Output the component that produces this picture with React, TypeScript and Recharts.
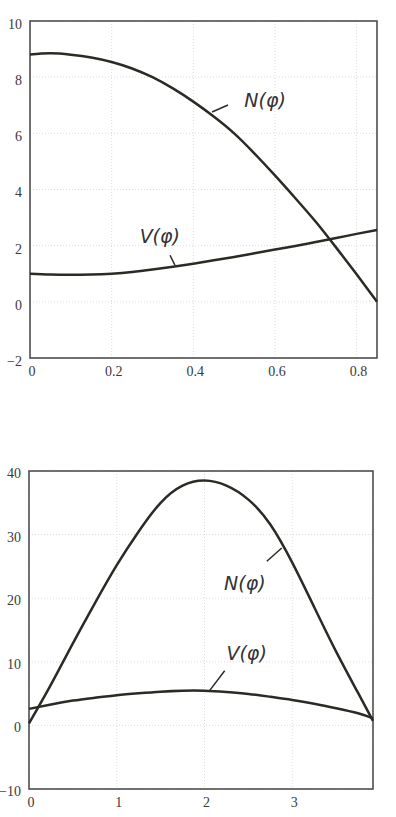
import React from 'react';
import {
  LineChart, Line, XAxis, YAxis, CartesianGrid, ReferenceArea, ReferenceLine, ReferenceDot,
} from 'recharts';

// upper plot: phi in rad, forces N and V
const phiTop = [0, 0.05, 0.1, 0.15, 0.2, 0.25, 0.3, 0.35, 0.4, 0.45, 0.5, 0.55, 0.6, 0.65, 0.7, 0.75, 0.8, 0.85];
const nTop = [8.81, 8.85, 8.8, 8.7, 8.54, 8.31, 8.0, 7.6, 7.13, 6.6, 6.0, 5.28, 4.5, 3.69, 2.85, 1.93, 0.98, 0.0];
const vTop = [1.0, 0.97, 0.96, 0.97, 1.0, 1.06, 1.15, 1.25, 1.36, 1.48, 1.6, 1.73, 1.86, 1.99, 2.13, 2.27, 2.42, 2.56];
const topXTicks = [0, 0.2, 0.4, 0.6, 0.8];
const topYTicks = [-2, 0, 2, 4, 6, 8, 10];

// lower plot
const phiBottom = [0, 0.25, 0.5, 0.75, 1, 1.25, 1.5, 1.75, 2, 2.25, 2.5, 2.75, 3, 3.25, 3.5, 3.75, 3.92];
const nBottom = [0.3, 6.4, 12.9, 19.2, 25.2, 30.5, 35.0, 37.7, 38.5, 37.7, 35.5, 31.6, 25.6, 18.6, 11.6, 5.1, 0.7];
const vBottom = [2.6, 3.3, 3.9, 4.35, 4.75, 5.05, 5.3, 5.45, 5.45, 5.25, 4.95, 4.5, 4.0, 3.4, 2.7, 1.9, 1.1];
const bottomXTicks = [0, 1, 2, 3];
const bottomYTicks = [-10, 0, 10, 20, 30, 40];

const topData = phiTop.map((phi, i) => ({ phi, N: nTop[i], V: vTop[i] }));
const bottomData = phiBottom.map((phi, i) => ({ phi, N: nBottom[i], V: vBottom[i] }));

const tickFont = { fontFamily: '"Liberation Serif", serif', fontSize: 14, fill: '#3a3a3a' };
const curve = '#2b2a24';
const frame = '#444';

const XTick = (props: any) => (
  <text x={props.x + 2} y={props.y} dy="0.71em" textAnchor="middle" {...tickFont}>
    {props.payload.value}
  </text>
);

const makeYTick = (shift: number) => (props: any) => {
  const v = Number(props.payload.value);
  return (
    <text x={props.x} y={props.y + shift} dy="0.355em" textAnchor="end" {...tickFont}>
      {v < 0 ? `\u2212${-v}` : `${v}`}
    </text>
  );
};

const hand = (text: string) => (props: any) => (
  <text
    x={props.cx}
    y={props.cy}
    dy="0.35em"
    textAnchor="middle"
    fontFamily='"DejaVu Sans", sans-serif'
    fontStyle="italic"
    fontSize={19}
    fill="#333"
  >
    {text}
  </text>
);

export default function App() {
  return (
    <div style={{ position: 'absolute', left: 0, top: 0, width: 396, height: 817, background: '#fff' }}>
      <div style={{ position: 'absolute', left: 0, top: 0 }}>
        <LineChart width={396} height={400} data={topData} margin={{ top: 21, right: 19, bottom: 0, left: 0 }} style={{ overflow: 'visible' }}>
          <CartesianGrid stroke="#dcdcdc" strokeDasharray="1 2" />
          <XAxis
            dataKey="phi"
            type="number"
            domain={[0, 0.85]}
            ticks={topXTicks}
            height={42}
            axisLine={false}
            tickLine={false}
            tickSize={6}
            tickMargin={2}
            tick={XTick}
          />
          <YAxis
            type="number"
            domain={[-2, 10]}
            ticks={topYTicks}
            width={30}
            axisLine={false}
            tickLine={false}
            tickSize={6}
            tickMargin={2}
            tick={makeYTick(3)}
          />
          <ReferenceArea x1={0} x2={0.85} y1={-2} y2={10} fill="none" stroke={frame} strokeWidth={1.5} fillOpacity={0} />
          <Line dataKey="N" type="natural" stroke={curve} strokeWidth={2.5} dot={false} isAnimationActive={false} />
          <Line dataKey="V" type="natural" stroke={curve} strokeWidth={2.5} dot={false} isAnimationActive={false} />
          <ReferenceLine segment={[{ x: 0.446, y: 6.76 }, { x: 0.485, y: 7.01 }]} stroke={curve} strokeWidth={1.5} />
          <ReferenceLine segment={[{ x: 0.343, y: 1.66 }, { x: 0.355, y: 1.31 }]} stroke={curve} strokeWidth={1.5} />
          <ReferenceDot x={0.576} y={7.19} r={0} shape={hand('N(φ)')} />
          <ReferenceDot x={0.318} y={2.34} r={0} shape={hand('V(φ)')} />
        </LineChart>
      </div>
      <div style={{ position: 'absolute', left: 0, top: 420 }}>
        <LineChart width={396} height={397} data={bottomData} margin={{ top: 51, right: 23, bottom: 0, left: 0 }} style={{ overflow: 'visible' }}>
          <CartesianGrid stroke="#dcdcdc" strokeDasharray="1 2" />
          <XAxis
            dataKey="phi"
            type="number"
            domain={[0, 3.92]}
            ticks={bottomXTicks}
            height={28}
            axisLine={false}
            tickLine={false}
            tickSize={6}
            tickMargin={2}
            tick={XTick}
          />
          <YAxis
            type="number"
            domain={[-10, 40]}
            ticks={bottomYTicks}
            width={29}
            axisLine={false}
            tickLine={false}
            tickSize={6}
            tickMargin={2}
            tick={makeYTick(2)}
          />
          <ReferenceArea x1={0} x2={3.92} y1={-10} y2={40} fill="none" stroke={frame} strokeWidth={1.5} fillOpacity={0} />
          <Line dataKey="N" type="natural" stroke={curve} strokeWidth={2.5} dot={false} isAnimationActive={false} />
          <Line dataKey="V" type="natural" stroke={curve} strokeWidth={2.5} dot={false} isAnimationActive={false} />
          <ReferenceLine segment={[{ x: 2.71, y: 25.8 }, { x: 2.88, y: 27.9 }]} stroke={curve} strokeWidth={1.5} />
          <ReferenceLine segment={[{ x: 2.06, y: 5.5 }, { x: 2.23, y: 8.6 }]} stroke={curve} strokeWidth={1.5} />
          <ReferenceDot x={2.46} y={22.4} r={0} shape={hand('N(φ)')} />
          <ReferenceDot x={2.48} y={11.4} r={0} shape={hand('V(φ)')} />
        </LineChart>
      </div>
    </div>
  );
}
